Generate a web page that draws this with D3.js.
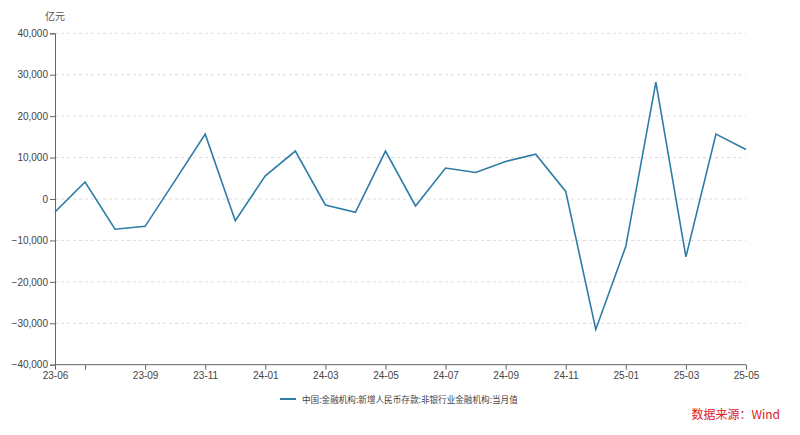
<!DOCTYPE html>
<html><head><meta charset="utf-8">
<script src="https://cdn.jsdelivr.net/npm/d3@7/dist/d3.min.js"></script>
<style>body{margin:0;background:#fff;}svg{display:block;font-family:"Noto Sans CJK SC","Noto Sans",sans-serif;}</style>
</head><body><svg id="c" width="800" height="435"></svg>
<script>
const months = ["23-06","23-07","23-08","23-09","23-10","23-11","23-12","24-01","24-02","24-03","24-04","24-05","24-06","24-07","24-08","24-09","24-10","24-11","24-12","25-01","25-02","25-03","25-04","25-05"];
const values = [-3130,4100,-7300,-6600,4500,15650,-5230,5600,11570,-1450,-3220,11570,-1690,7470,6410,9060,10800,1830,-31500,-11420,28190,-13980,15660,11950];
const yTicks = [-40000,-30000,-20000,-10000,0,10000,20000,30000,40000];
const xTickMonths = ["23-06","23-07","23-09","23-11","24-01","24-03","24-05","24-07","24-09","24-11","25-01","25-03","25-05"];
const hiddenLabels = ["23-07"];
const seriesName = "中国:金融机构:新增人民币存款:非银行业金融机构:当月值";
const unit = "亿元";
const source = "数据来源：Wind";

const svg = d3.select("#c");
const x = d3.scalePoint().domain(months).range([55, 746]);
const y = d3.scaleLinear().domain([-40000, 40000]).range([364.7, 33.3]);

// grid
svg.append("g").selectAll("line").data(yTicks.filter(d => d !== -40000)).join("line")
  .attr("x1", 55).attr("x2", 746).attr("y1", d => y(d)).attr("y2", d => y(d))
  .attr("stroke", "#dcdcdc").attr("stroke-dasharray", "3,3").attr("stroke-width", 1);

// y axis
const yAxis = d3.axisLeft(y).tickValues(yTicks).tickSize(5).tickPadding(2).tickFormat(d3.format(","));
const gy = svg.append("g").attr("transform", "translate(55,0)").call(yAxis);
gy.select(".domain").attr("stroke", "#666");
gy.selectAll(".tick line").attr("stroke", "#666");
gy.selectAll(".tick text").attr("fill", "#444").attr("font-size", 10);

// x axis
const xAxis = d3.axisBottom(x).tickValues(xTickMonths).tickSize(5).tickPadding(2)
  .tickFormat(d => hiddenLabels.includes(d) ? "" : d);
const gx = svg.append("g").attr("transform", `translate(0,${y(-40000)})`).call(xAxis);
gx.select(".domain").attr("stroke", "#666").attr("d", "M55,0H746");
gx.selectAll(".tick line").attr("stroke", "#666");
gx.selectAll(".tick text").attr("fill", "#444").attr("font-size", 10);

// line
const line = d3.line().x((d, i) => x(months[i])).y(d => y(d));
svg.append("path").datum(values).attr("d", line)
  .attr("fill", "none").attr("stroke", "#2e7ca6").attr("stroke-width", 1.6).attr("stroke-linejoin", "miter");

// unit
svg.append("text").attr("x", 55).attr("y", 20).attr("text-anchor", "middle")
  .attr("font-size", 10).attr("fill", "#555").text(unit);

// legend
svg.append("line").attr("x1", 280).attr("x2", 296).attr("y1", 399).attr("y2", 399)
  .attr("stroke", "#2e7ca6").attr("stroke-width", 2);
svg.append("text").attr("x", 302).attr("y", 402.5).attr("font-size", 8.6).attr("fill", "#444").text(seriesName);

// source
svg.append("text").attr("x", 780).attr("y", 419).attr("text-anchor", "end")
  .attr("font-size", 12).attr("fill", "#e02020").text(source);
</script></body></html>
